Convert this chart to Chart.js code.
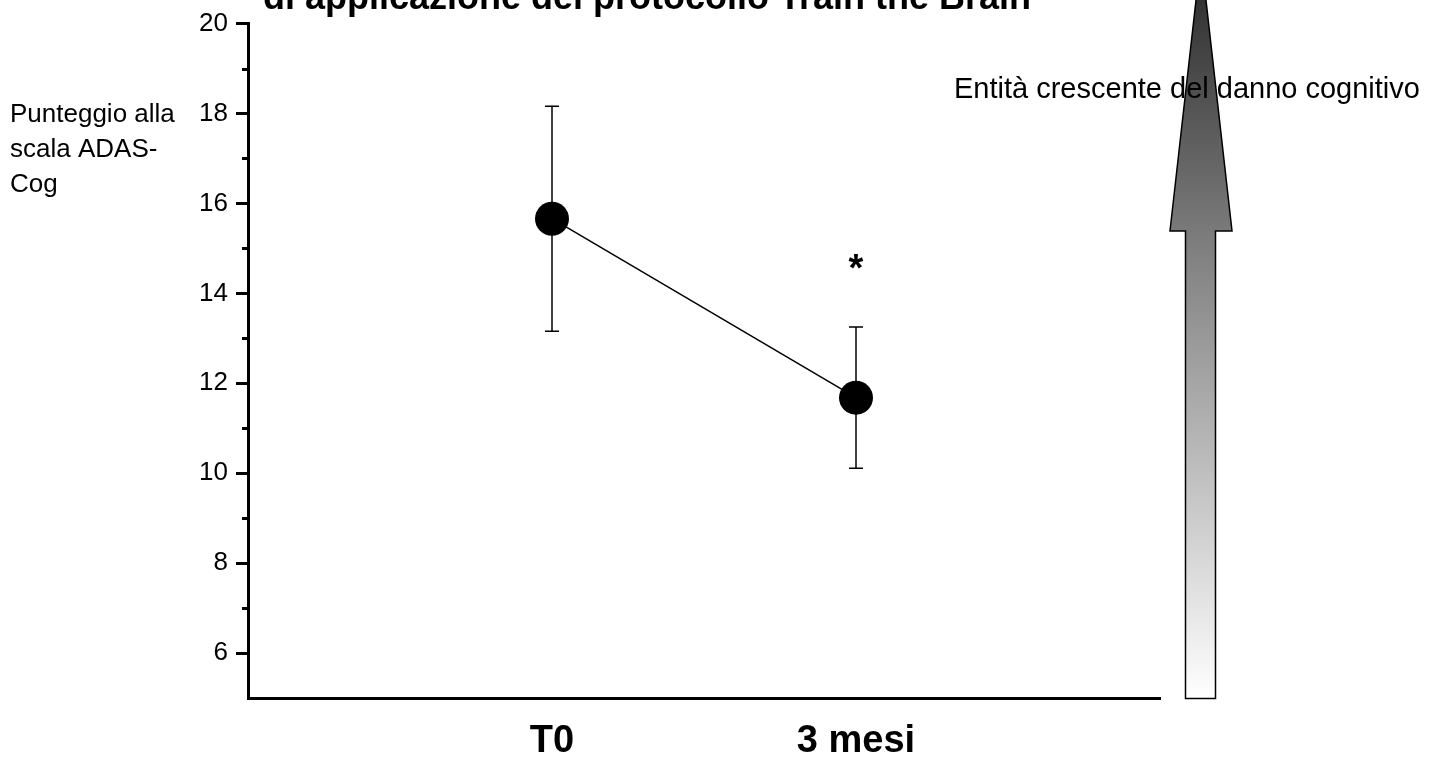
<!DOCTYPE html>
<html>
<head>
<meta charset="utf-8">
<title>ADAS-Cog</title>
<script src="https://cdn.jsdelivr.net/npm/chart.js@4/dist/chart.umd.min.js"></script>
<style>
  html, body { margin: 0; padding: 0; background: #ffffff; }
  #wrap { position: relative; width: 1431px; height: 760px; }
  canvas { display: block; }
</style>
</head>
<body>
<div id="wrap"><canvas id="c" width="1431" height="760"></canvas></div>
<script>
// ---- data ----
const categories = ['T0', '3 mesi'];
const categoryX = [1, 2];
const meanScores = [15.66, 11.68];
const errorUp = [2.5, 1.57];
const errorDown = [2.5, 1.57];
const yMajorTicks = [6, 8, 10, 12, 14, 16, 18, 20];
const yMinorTicks = [7, 9, 11, 13, 15, 17, 19];
const significance = [{ index: 1, y: 14.7, text: '*' }];
const titleText = 'di applicazione del protocollo Train the Brain';
const yTitleLines = ['Punteggio alla', 'scala ADAS-', 'Cog'];
const arrowText = 'Entità crescente del danno cognitivo';

const FONT = '"Liberation Sans", Arial, Helvetica, sans-serif';

const decorPlugin = {
  id: 'decor',
  beforeDatasetsDraw(chart) {
    const ctx = chart.ctx;
    const xs = chart.scales.x, ys = chart.scales.y;
    ctx.save();
    // minor ticks
    ctx.strokeStyle = '#000';
    ctx.lineWidth = 3;
    yMinorTicks.forEach(v => {
      const py = Math.round(ys.getPixelForValue(v)) + 0.5;
      ctx.beginPath();
      ctx.moveTo(chart.chartArea.left - 6, py);
      ctx.lineTo(chart.chartArea.left, py);
      ctx.stroke();
    });
    // error bars
    ctx.lineWidth = 1.5;
    categoryX.forEach((cx, i) => {
      const px = xs.getPixelForValue(cx);
      const top = ys.getPixelForValue(meanScores[i] + errorUp[i]);
      const bot = ys.getPixelForValue(meanScores[i] - errorDown[i]);
      ctx.beginPath();
      ctx.moveTo(px, top); ctx.lineTo(px, bot);
      ctx.moveTo(px - 7, top); ctx.lineTo(px + 7, top);
      ctx.moveTo(px - 7, bot); ctx.lineTo(px + 7, bot);
      ctx.stroke();
    });
    ctx.restore();
  },
  afterDraw(chart) {
    const ctx = chart.ctx;
    const xs = chart.scales.x, ys = chart.scales.y;
    ctx.save();
    // significance marker
    ctx.fillStyle = '#000';
    ctx.font = 'bold 38px ' + FONT;
    ctx.textAlign = 'center';
    ctx.textBaseline = 'alphabetic';
    significance.forEach(s => {
      const px = xs.getPixelForValue(categoryX[s.index]);
      const py = ys.getPixelForValue(s.y);
      const m = ctx.measureText(s.text);
      const base = py + (m.actualBoundingBoxAscent - m.actualBoundingBoxDescent) / 2;
      ctx.fillText(s.text, px, base);
    });
    // title (clipped at top)
    ctx.font = 'bold 36px ' + FONT;
    ctx.textAlign = 'center';
    ctx.fillText(titleText, 647, 9);
    // y axis title
    ctx.font = '26px ' + FONT;
    ctx.textAlign = 'left';
    yTitleLines.forEach((t, i) => ctx.fillText(t, 10, 122 + i * 35));

    // arrow
    const grad = ctx.createLinearGradient(0, -44, 0, 699);
    grad.addColorStop(0, '#262626');
    grad.addColorStop(0.37, '#7a7a7a');
    grad.addColorStop(1, '#ffffff');
    ctx.beginPath();
    ctx.moveTo(1201, -44);
    ctx.lineTo(1232, 231);
    ctx.lineTo(1215.5, 231);
    ctx.lineTo(1215.5, 698.5);
    ctx.lineTo(1185.5, 698.5);
    ctx.lineTo(1185.5, 231);
    ctx.lineTo(1170, 231);
    ctx.closePath();
    ctx.fillStyle = grad;
    ctx.fill();
    ctx.strokeStyle = '#000';
    ctx.lineWidth = 1.5;
    ctx.stroke();

    // arrow text
    ctx.fillStyle = '#000';
    ctx.font = '29px ' + FONT;
    ctx.textAlign = 'left';
    ctx.fillText(arrowText, 954, 98);
    ctx.restore();
  }
};

new Chart(document.getElementById('c'), {
  type: 'scatter',
  data: {
    datasets: [{
      data: categoryX.map((x, i) => ({ x: x, y: meanScores[i] })),
      showLine: true,
      borderColor: '#000',
      borderWidth: 1.5,
      pointRadius: 17,
      pointHoverRadius: 17,
      pointBackgroundColor: '#000',
      pointBorderColor: '#000',
      pointBorderWidth: 0,
      clip: false
    }]
  },
  options: {
    responsive: false,
    animation: false,
    devicePixelRatio: 1,
    layout: { padding: { left: 0, right: 271, top: 20, bottom: 0 } },
    plugins: { legend: { display: false }, tooltip: { enabled: false }, title: { display: false } },
    scales: {
      x: {
        type: 'linear',
        min: 0, max: 3,
        afterBuildTicks: (scale) => { scale.ticks = categoryX.map(v => ({ value: v })); },
        afterFit: (scale) => { scale.height = 62; },
        grid: { display: false, drawTicks: false },
        border: { display: true, color: '#000', width: 3 },
        ticks: {
          padding: 21,
          color: '#000',
          font: { family: FONT, size: 38, weight: 'bold' },
          callback: (v) => { const i = categoryX.indexOf(v); return i >= 0 ? categories[i] : ''; },
          maxRotation: 0, autoSkip: false
        }
      },
      y: {
        type: 'linear',
        min: 5, max: 20,
        afterBuildTicks: (scale) => { scale.ticks = yMajorTicks.map(v => ({ value: v })); },
        afterFit: (scale) => { scale.width = 248; },
        grid: { display: true, drawOnChartArea: false, drawTicks: true, tickLength: 12, lineWidth: 3, color: '#000' },
        border: { display: true, color: '#000', width: 3 },
        ticks: {
          padding: 8,
          color: '#000',
          font: { family: FONT, size: 26 }
        }
      }
    }
  },
  plugins: [decorPlugin]
});
</script>
</body>
</html>
